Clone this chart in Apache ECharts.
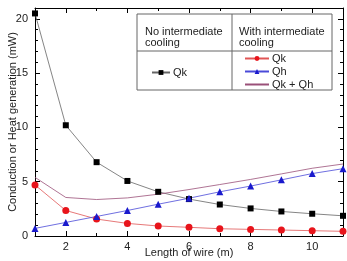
<!DOCTYPE html>
<html>
<head>
<meta charset="utf-8">
<script src="https://cdn.jsdelivr.net/npm/echarts@6/dist/echarts.min.js"></script>
<style>
html,body{margin:0;padding:0;background:#fff;}
#main{width:347px;height:261px;}
</style>
</head>
<body>
<div id="main"></div>
<script>
var lengths = [1, 2, 3, 4, 5, 6, 7, 8, 9, 10, 11];
var qkNoCool = [20.5, 10.2, 6.8, 5.07, 4.07, 3.4, 2.9, 2.54, 2.26, 2.05, 1.86];
var qkCool = [4.7, 2.35, 1.56, 1.16, 0.92, 0.8, 0.67, 0.61, 0.55, 0.49, 0.43];
var qhCool = [0.7, 1.25, 1.8, 2.35, 2.93, 3.48, 4.07, 4.6, 5.17, 5.75, 6.2];
var sumCool = [5.4, 3.55, 3.36, 3.51, 3.85, 4.28, 4.74, 5.21, 5.72, 6.24, 6.63];
var xMajor = [2, 4, 6, 8, 10];
var xMinor = [3, 5, 7, 9];

function pairs(vals) {
  return vals.map(function (v, i) { return [lengths[i], v]; });
}

var font = 'Liberation Sans, Arial, sans-serif';
var chart = echarts.init(document.getElementById('main'));

var blackLine = { lineStyle: { color: '#000', width: 1 } };

function xAx(pos, ticks, len, withLine, withLabel) {
  var ax = {
    type: 'value', min: 1, max: 11, interval: 1, position: pos,
    axisLine: { show: withLine, lineStyle: { color: '#000', width: 1 } },
    axisTick: { inside: true, length: len, customValues: ticks, lineStyle: { color: '#000' } },
    axisLabel: { show: withLabel, customValues: xMajor, fontSize: 11, color: '#222', margin: 5, fontFamily: font },
    splitLine: { show: false }
  };
  if (withLabel) {
    ax.name = 'Length of wire (m)';
    ax.nameLocation = 'middle';
    ax.nameGap = 11;
    ax.nameMoveOverlap = false;
    ax.nameTextStyle = { fontSize: 11, color: '#222', fontFamily: font };
  }
  return ax;
}

var option = {
  animation: false,
  textStyle: { fontFamily: font },
  grid: { left: 35, right: 4, top: 8, bottom: 25, outerBoundsMode: 'none', containLabel: false },
  xAxis: [
    xAx('bottom', xMajor, 5, true, true),
    xAx('bottom', xMinor, 3, false, false),
    xAx('top', xMajor, 5, true, false),
    xAx('top', xMinor, 3, false, false)
  ],
  yAxis: [
    {
      type: 'value', min: 0, max: 21, interval: 5,
      name: 'Conduction or Heat generation (mW)', nameLocation: 'middle', nameGap: 17,
      nameMoveOverlap: false,
      nameTextStyle: { fontSize: 11, color: '#222', fontFamily: font },
      axisLabel: { fontSize: 11, color: '#222', margin: 7, showMaxLabel: false, fontFamily: font },
      axisLine: blackLine,
      axisTick: { inside: true, length: 5, lineStyle: { color: '#000' } },
      minorTick: { show: true, splitNumber: 5, length: 3, lineStyle: { color: '#000' } },
      splitLine: { show: false }
    },
    {
      type: 'value', min: 0, max: 21, interval: 5, position: 'right',
      axisLine: blackLine,
      axisTick: { inside: true, length: 5, lineStyle: { color: '#000' } },
      minorTick: { show: true, splitNumber: 5, length: 3, lineStyle: { color: '#000' } },
      axisLabel: { show: false }, splitLine: { show: false }
    }
  ],
  legend: [
    {
      data: ['Qk '],
      left: 146, top: 62, itemWidth: 18, itemHeight: 6, itemGap: 4,
      textStyle: { fontSize: 11, color: '#222', fontFamily: font, padding: [0, 0, 0, -2] }
    },
    {
      data: ['Qk', 'Qh', { name: 'Qk + Qh', itemStyle: { opacity: 0 } }],
      orient: 'vertical', left: 239, top: 48, itemWidth: 24, itemHeight: 6, itemGap: 2,
      textStyle: { fontSize: 11, color: '#222', fontFamily: font, padding: [0, 0, 0, -2] }
    }
  ],
  graphic: [
    { type: 'rect', shape: { x: 137, y: 14, width: 195, height: 76 },
      style: { fill: '#fff', stroke: '#666', lineWidth: 1 }, z: 0 },
    { type: 'line', shape: { x1: 232, y1: 14, x2: 232, y2: 90 }, style: { stroke: '#666', lineWidth: 1 }, z: 1 },
    { type: 'line', shape: { x1: 137, y1: 51, x2: 332, y2: 51 }, style: { stroke: '#666', lineWidth: 1 }, z: 1 },
    { type: 'text', left: 145, top: 26, style: { text: 'No intermediate\ncooling', fontSize: 11, lineHeight: 11, fill: '#222', fontFamily: font }, z: 2 },
    { type: 'text', left: 239, top: 26, style: { text: 'With intermediate\ncooling', fontSize: 11, lineHeight: 11, fill: '#222', fontFamily: font }, z: 2 }
  ],
  series: [
    {
      name: 'Qk ', type: 'line', data: pairs(qkNoCool),
      symbol: 'rect', symbolSize: 6,
      lineStyle: { color: '#666', width: 0.8 },
      itemStyle: { color: '#000' }, z: 3
    },
    {
      name: 'Qk', type: 'line', data: pairs(qkCool),
      symbol: 'circle', symbolSize: 7,
      lineStyle: { color: '#e05555', width: 0.8 },
      itemStyle: { color: '#e8141b' }, z: 3
    },
    {
      name: 'Qh', type: 'line', data: pairs(qhCool),
      symbol: 'triangle', symbolSize: 7,
      lineStyle: { color: '#4a4ad8', width: 0.8 },
      itemStyle: { color: '#1a1acd' }, z: 3
    },
    {
      name: 'Qk + Qh', type: 'line', data: pairs(sumCool),
      symbol: 'none', showSymbol: false,
      lineStyle: { color: '#9a5079', width: 0.8 },
      itemStyle: { color: '#9a5079' }, z: 3
    }
  ]
};

chart.setOption(option);
</script>
</body>
</html>
